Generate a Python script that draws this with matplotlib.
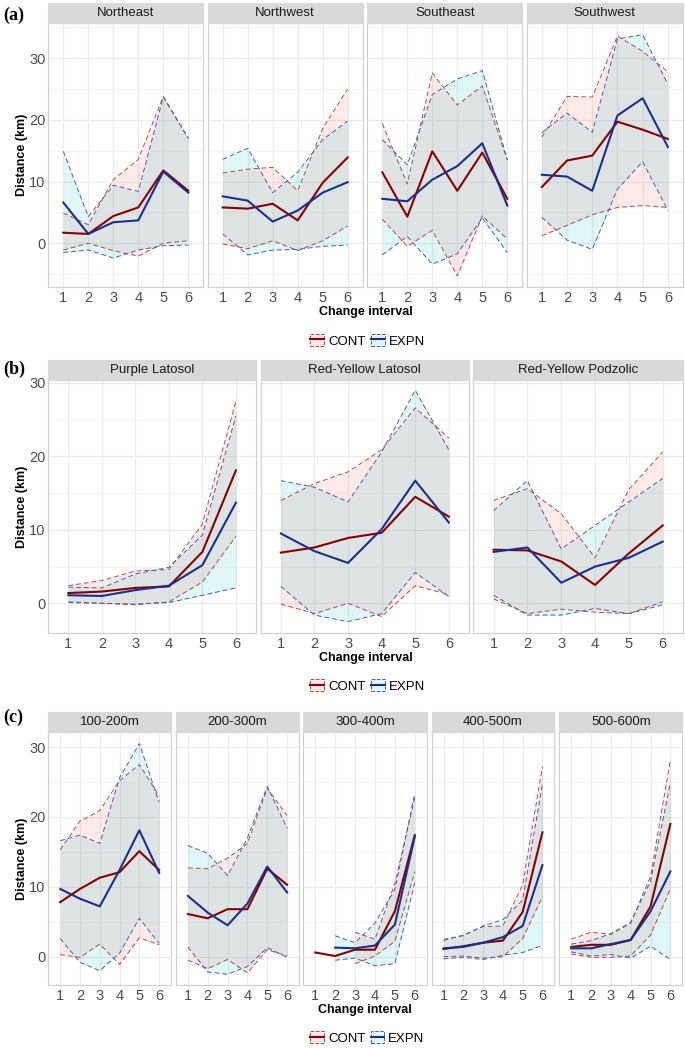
import numpy as np
import matplotlib
matplotlib.use("Agg")
import matplotlib.pyplot as plt
from matplotlib.patches import Patch
from matplotlib.lines import Line2D

plt.rcParams['font.family'] = ['Liberation Sans', 'DejaVu Sans']

nan = np.nan
intervals = [1, 2, 3, 4, 5, 6]

# (a) region facets
a_names = ["Northeast", "Northwest", "Southeast", "Southwest"]
a_cont_mean = [[1.7, 1.5, 4.4, 5.8, 11.8, 8.5],
               [5.8, 5.6, 6.4, 3.7, 9.8, 13.9],
               [11.5, 4.3, 14.9, 8.5, 14.7, 7.2],
               [9.1, 13.4, 14.2, 19.7, 18.4, 16.9]]
a_cont_hi = [[4.9, 3.0, 10.3, 13.6, 23.8, 17.0],
             [11.4, 12.0, 12.3, 8.5, 18.6, 25.0],
             [19.4, 9.6, 27.6, 22.4, 25.5, 13.5],
             [17.2, 23.8, 23.7, 33.6, 31.1, 27.8]]
a_cont_lo = [[-1.1, 0.0, -1.2, -2.1, 0.0, 0.4],
             [-0.1, -0.9, 0.4, -1.2, 0.4, 2.8],
             [3.9, -0.5, 2.1, -5.3, 4.4, 0.7],
             [1.2, 2.9, 4.6, 5.8, 6.1, 5.8]]
a_expn_mean = [[6.6, 1.5, 3.4, 3.7, 11.6, 8.2],
               [7.6, 6.9, 3.5, 5.3, 8.2, 9.9],
               [7.2, 6.8, 10.3, 12.5, 16.2, 6.1],
               [11.1, 10.8, 8.5, 20.7, 23.5, 15.6]]
a_expn_hi = [[14.9, 4.3, 9.4, 8.4, 23.7, 17.0],
             [13.6, 15.4, 8.2, 11.5, 16.8, 19.8],
             [16.8, 12.7, 24.1, 26.6, 28.0, 13.5],
             [17.9, 21.1, 18.0, 33.1, 33.8, 25.8]]
a_expn_lo = [[-1.5, -1.1, -2.4, -1.1, -0.4, -0.3],
             [1.5, -1.9, -1.1, -1.0, -0.5, -0.3],
             [-1.9, 1.1, -3.4, -1.7, 4.1, -1.5],
             [4.2, 0.5, -1.0, 8.8, 13.2, 5.3]]

# (b) soil facets
b_names = ["Purple Latosol", "Red-Yellow Latosol", "Red-Yellow Podzolic"]
b_cont_mean = [[1.4, 1.6, 2.1, 2.3, 7.0, 18.1],
               [6.9, 7.6, 8.9, 9.6, 14.5, 11.8],
               [7.3, 7.2, 5.7, 2.5, 6.8, 10.6]]
b_cont_hi = [[2.4, 3.1, 4.4, 4.6, 10.8, 27.5],
             [14.0, 16.3, 17.9, 20.9, 26.6, 22.5],
             [14.0, 15.6, 12.2, 6.2, 15.5, 20.6]]
b_cont_lo = [[0.1, 0.0, -0.2, 0.2, 2.9, 9.1],
             [-0.1, -1.4, 0.0, -1.8, 2.4, 1.2],
             [0.6, -1.4, -0.8, -1.2, -1.4, 0.2]]
b_expn_mean = [[1.1, 1.0, 1.8, 2.4, 5.2, 13.7],
               [9.5, 7.1, 5.5, 10.1, 16.7, 11.0],
               [7.0, 7.6, 2.8, 5.0, 6.2, 8.4]]
b_expn_hi = [[2.2, 2.1, 4.0, 4.9, 9.3, 25.5],
             [16.7, 15.8, 13.8, 20.6, 29.0, 20.9],
             [12.6, 16.7, 7.4, 10.6, 13.8, 17.0]]
b_expn_lo = [[0.2, 0.0, -0.1, 0.1, 1.1, 2.1],
             [2.3, -1.6, -2.5, -1.4, 4.2, 0.9],
             [1.1, -1.6, -1.6, -0.7, -1.4, -0.2]]

# (c) elevation facets
c_names = ["100-200m", "200-300m", "300-400m", "400-500m", "500-600m"]
c_cont_mean = [[7.8, 9.7, 11.3, 12.1, 15.1, 12.4],
               [6.1, 5.5, 6.8, 6.8, 12.6, 10.3],
               [0.6, 0.1, 1.0, 1.0, 6.5, 17.4],
               [1.1, 1.5, 2.0, 2.3, 6.4, 17.8],
               [1.4, 1.7, 1.7, 2.4, 7.2, 19.0]]
c_cont_hi = [[15.3, 19.4, 20.9, 25.2, 27.5, 23.0],
             [12.7, 12.6, 14.1, 16.2, 24.1, 20.2],
             [nan, nan, 3.5, 2.5, 10.5, 22.7],
             [2.3, 3.1, 4.3, 4.4, 10.3, 27.2],
             [2.5, 3.5, 3.2, 4.8, 11.5, 28.2]]
c_cont_lo = [[0.3, -0.1, 1.8, -1.1, 2.7, 1.7],
             [-0.5, -1.7, -0.4, -2.3, 1.0, 0.1],
             [nan, nan, -1.0, 0.1, 2.2, 12.2],
             [0.0, 0.1, -0.2, 0.0, 2.6, 8.6],
             [0.4, -0.1, -0.1, 0.1, 3.1, 9.7]]
c_expn_mean = [[9.7, 8.3, 7.2, 12.4, 18.1, 12.0],
               [8.7, 6.3, 4.5, 7.6, 12.9, 9.2],
               [nan, 1.3, 1.2, 1.6, 4.6, 17.2],
               [1.2, 1.4, 2.0, 2.8, 4.4, 13.1],
               [1.2, 1.2, 1.8, 2.4, 6.5, 12.2]]
c_expn_hi = [[16.6, 17.4, 16.2, 25.6, 30.5, 22.1],
             [15.9, 14.8, 11.6, 17.0, 24.4, 18.4],
             [nan, 3.0, 2.0, 4.8, 9.6, 23.4],
             [2.5, 3.0, 4.4, 5.3, 8.1, 24.7],
             [1.8, 2.3, 3.3, 4.9, 10.8, 24.9]]
c_expn_lo = [[2.6, -0.8, -2.0, 0.5, 5.5, 1.9],
             [1.4, -2.2, -2.5, -1.4, 1.3, -0.1],
             [nan, -0.5, -0.2, -1.3, -1.0, 10.6],
             [-0.3, -0.1, -0.4, 0.2, 0.6, 1.6],
             [0.7, 0.1, 0.3, -0.2, 1.5, -0.4]]

W, H = 685, 1048
CONT_LINE, EXPN_LINE = "#8B0000", "#1B2F8E"
CONT_DASH, EXPN_DASH = "#B24A4A", "#4A5CAE"
CONT_FILL, EXPN_FILL = "#F8766D", "#00BFC4"

fig = plt.figure(figsize=(W / 100, H / 100), dpi=100)


def rect(x0, x1, y0, y1):
    return [x0 / W, 1 - y1 / H, (x1 - x0) / W, (y1 - y0) / H]


def draw_group(tag, tag_y, names, cols, strip, panel, ylim,
               cm, chi, clo, em, ehi, elo, xlab_y, leg_y):
    x = np.array(intervals)
    for i, name in enumerate(names):
        x0, x1 = cols[i]
        ax = fig.add_axes(rect(x0, x1, panel[0], panel[1]))
        ax.set_xlim(0.4, 6.6)
        ax.set_ylim(*ylim)
        ax.set_xticks(intervals)
        ax.set_yticks([0, 10, 20, 30])
        ax.set_yticks([v for v in [-5, 5, 15, 25, 35] if ylim[0] < v < ylim[1]], minor=True)
        ax.grid(which='major', color='#EBEBEB', lw=0.9)
        ax.grid(which='minor', axis='y', color='#F3F3F3', lw=0.6)
        ax.set_axisbelow(True)
        for s in ax.spines.values():
            s.set_color('#CFCFCF')
            s.set_linewidth(0.8)
        ax.tick_params(which='both', length=0, labelsize=10.5, labelcolor='#4D4D4D')
        ax.tick_params(axis='x', pad=3)
        ax.tick_params(axis='y', pad=2)
        if i > 0:
            ax.set_yticklabels([])

        lo_c, hi_c = np.array(clo[i]), np.array(chi[i])
        lo_e, hi_e = np.array(elo[i]), np.array(ehi[i])
        ax.fill_between(x, lo_c, hi_c, color=CONT_FILL, alpha=0.15, lw=0)
        ax.fill_between(x, lo_e, hi_e, color=EXPN_FILL, alpha=0.12, lw=0)
        dash = (0, (5, 3))
        ax.plot(x, hi_c, color=CONT_DASH, lw=0.7, ls=dash)
        ax.plot(x, lo_c, color=CONT_DASH, lw=0.7, ls=dash)
        ax.plot(x, hi_e, color=EXPN_DASH, lw=0.7, ls=dash)
        ax.plot(x, lo_e, color=EXPN_DASH, lw=0.7, ls=dash)
        ax.plot(x, cm[i], color=CONT_LINE, lw=1.5)
        ax.plot(x, em[i], color=EXPN_LINE, lw=1.5)

        sax = fig.add_axes(rect(x0, x1, strip[0], strip[1]))
        sax.set_facecolor('#D9D9D9')
        sax.set_xticks([])
        sax.set_yticks([])
        for s in sax.spines.values():
            s.set_color('#D9D9D9')
        sax.text(0.5, 0.5, name, ha='center', va='center', fontsize=9.5, color='#1A1A1A',
                 transform=sax.transAxes)

    left, right = cols[0][0], cols[-1][1]
    fig.text(22 / W, 1 - (panel[0] + panel[1]) / 2 / H, 'Distance (km)', rotation=90,
             ha='center', va='center', fontsize=9, weight='bold', color='black')
    fig.text((left + right) / 2 / W, 1 - xlab_y / H, 'Change interval',
             ha='center', va='center', fontsize=9, weight='bold', color='black')
    fig.text(3 / W, 1 - tag_y / H, tag, ha='left', va='center', fontsize=13,
             weight='bold', family='Liberation Serif')

    handles = [(Patch(facecolor='#FDE7E6', edgecolor=CONT_DASH, ls='--', lw=0.7),
                Line2D([], [], color=CONT_LINE, lw=1.5)),
               (Patch(facecolor='#E0F6F7', edgecolor=EXPN_DASH, ls='--', lw=0.7),
                Line2D([], [], color=EXPN_LINE, lw=1.5))]
    fig.legend(handles, ['CONT', 'EXPN'], loc='center', ncol=2, frameon=False,
               bbox_to_anchor=((left + right) / 2 / W + 0.003, 1 - leg_y / H),
               fontsize=9.5, handlelength=1.05, handleheight=1.05,
               handletextpad=0.3, columnspacing=0.4)


draw_group('(a)', 15, a_names,
           [(48.3, 203.3), (207.7, 362.7), (367.3, 522.3), (526.7, 683)],
           (3, 23), (23, 287), (-7.1, 35.7),
           a_cont_mean, a_cont_hi, a_cont_lo, a_expn_mean, a_expn_hi, a_expn_lo,
           312, 341)

draw_group('(b)', 369, b_names,
           [(48.3, 256), (260.7, 469), (473.3, 683)],
           (360, 380), (380, 632.7), (-4.0, 30.4),
           b_cont_mean, b_cont_hi, b_cont_lo, b_expn_mean, b_expn_hi, b_expn_lo,
           658, 686)

draw_group('(c)', 717, c_names,
           [(48.3, 171), (176, 299), (303.3, 426.7), (431.7, 554.3), (559.3, 682.3)],
           (711.7, 731.7), (731.7, 985), (-4.05, 32.2),
           c_cont_mean, c_cont_hi, c_cont_lo, c_expn_mean, c_expn_hi, c_expn_lo,
           1010, 1038)

fig.savefig('out.png', dpi=100, facecolor='white')
